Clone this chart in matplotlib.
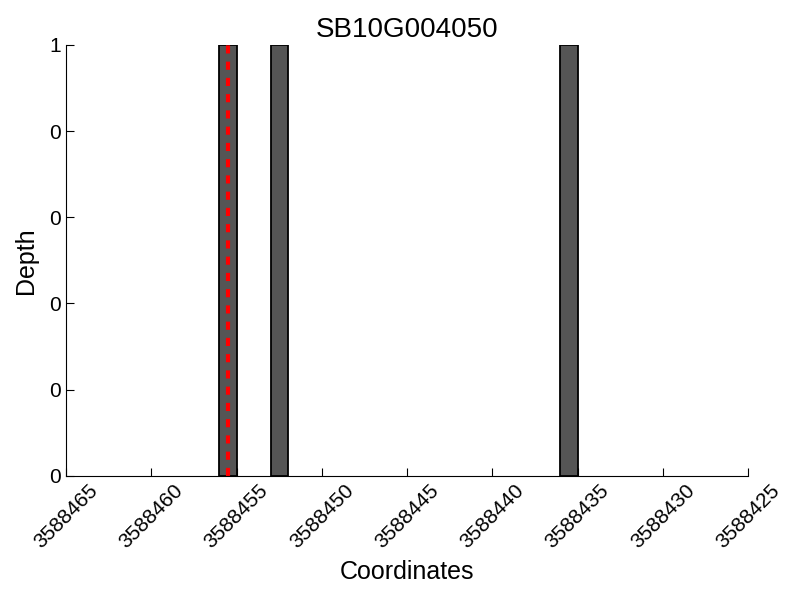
import matplotlib
matplotlib.use('Agg')
import matplotlib.pyplot as plt

plt.rcParams['font.family'] = ['Liberation Sans', 'DejaVu Sans']

gene = 'SB10G004050'
positions = [3588455, 3588452, 3588435]
depths = [1, 1, 1]
marker_pos = 3588455.5
xticks = [3588465, 3588460, 3588455, 3588450, 3588445, 3588440, 3588435, 3588430, 3588425]
yticks = [0, 0.2, 0.4, 0.6, 0.8, 1.0]

fig = plt.figure(figsize=(8, 6), dpi=100)
ax = fig.add_axes([0.0825, 0.207, 0.8525, 0.718])

ax.bar(positions, depths, width=1, align='edge', color='#555555', edgecolor='black', linewidth=1.3)
ax.axvline(marker_pos, color='red', linestyle='--', linewidth=3, dashes=(1.95, 1.95))

ax.set_xlim(3588465, 3588425)
ax.set_ylim(0, 1)
ax.set_xticks(xticks)
ax.set_xticklabels([str(t) for t in xticks], rotation=45, fontsize=15)
ax.set_yticks(yticks)
ax.set_yticklabels([str(int(t)) for t in yticks], fontsize=15)

ax.spines['top'].set_visible(False)
ax.spines['right'].set_visible(False)
ax.tick_params(direction='in', length=6, top=False, right=False)

ax.set_title(gene, fontsize=20, pad=6)
ax.set_xlabel('Coordinates', fontsize=18, labelpad=6)
ax.set_ylabel('Depth', fontsize=18, labelpad=8)

fig.savefig('out.png', dpi=100)
